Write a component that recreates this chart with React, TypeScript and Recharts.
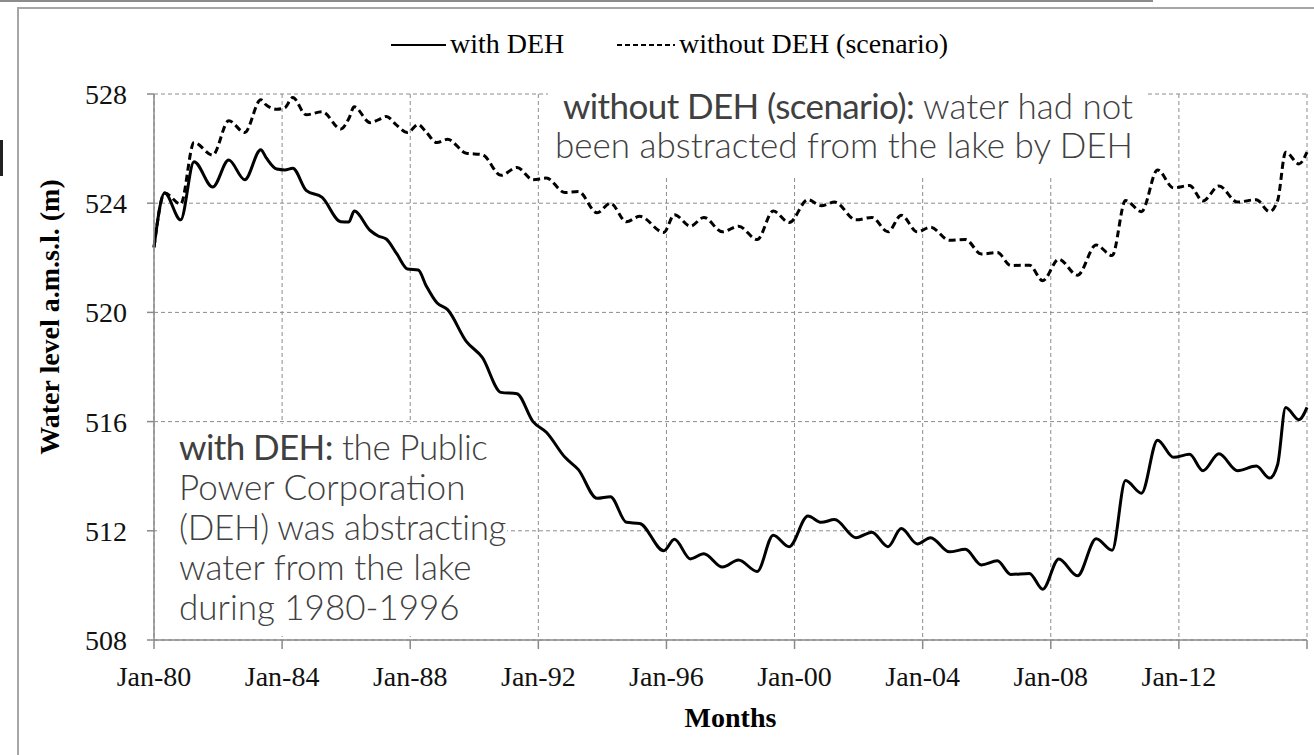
import React from 'react';
import { LineChart, Line, XAxis, YAxis, CartesianGrid } from 'recharts';

// months counted from Jan-1980
const months = [
  0, 4, 10, 15, 22, 28, 34, 40, 42, 46, 49, 52, 57, 63, 70, 73, 75, 81, 84, 87,
  91, 95, 99, 102, 106, 110, 117, 123, 130, 136, 142, 147, 154, 159, 166, 171, 177, 182, 191, 195,
  201, 206, 213, 219, 226, 232, 238, 245, 250, 255, 263, 269, 275, 280, 286, 291, 298, 304, 310, 316,
  321, 328, 333, 339, 346, 353, 359, 364, 370, 376, 382, 388, 393, 399, 406, 413, 418, 421, 424, 429, 432,
];

const withDEH = [
  522.38, 524.37, 523.39, 525.52, 524.59, 525.58, 524.86, 525.96, 525.67, 525.25,
  525.22, 525.28, 524.47, 524.21, 523.32, 523.31, 523.71, 523.0, 522.8, 522.69,
  522.14, 521.59, 521.55, 520.97, 520.35, 520.1, 518.94, 518.35, 517.07, 517.02,
  516.0, 515.61, 514.69, 514.24, 513.19, 513.25, 512.31, 512.27, 511.27, 511.69,
  510.97, 511.16, 510.67, 510.93, 510.51, 511.84, 511.42, 512.54, 512.31, 512.41,
  511.75, 511.95, 511.42, 512.08, 511.52, 511.75, 511.23, 511.32, 510.75, 510.9,
  510.4, 510.44, 509.86, 510.97, 510.35, 511.71, 511.29, 513.84, 513.38, 515.32,
  514.69, 514.8, 514.2, 514.82, 514.2, 514.37, 513.93, 514.43, 516.52, 516.07, 516.52,
];

const withoutDEH = [
  522.38, 524.37, 523.97, 526.22, 525.76, 527.02, 526.59, 527.79, 527.6, 527.44,
  527.5, 527.87, 527.24, 527.35, 526.72, 527.1, 527.53, 526.95, 527.05, 527.18,
  526.85, 526.59, 526.88, 526.6, 526.22, 526.34, 525.83, 525.78, 525.02, 525.31,
  524.86, 524.92, 524.39, 524.43, 523.65, 524.0, 523.32, 523.52, 522.93, 523.58,
  523.16, 523.48, 522.95, 523.16, 522.67, 523.71, 523.29, 524.13, 523.91, 524.04,
  523.39, 523.48, 522.95, 523.56, 522.95, 523.12, 522.64, 522.67, 522.14, 522.19,
  521.72, 521.73, 521.16, 521.95, 521.36, 522.47, 522.08, 524.1, 523.69, 525.22,
  524.56, 524.65, 524.08, 524.63, 524.04, 524.13, 523.69, 524.1, 525.87, 525.44, 525.87,
];

const xTicks = [0, 48, 96, 144, 192, 240, 288, 336, 384, 432];
const yTicks = [508, 512, 516, 520, 524, 528];

const data = months.map((m, i) => ({ month: m, withDEH: withDEH[i], withoutDEH: withoutDEH[i] }));

const serif = '"Liberation Serif", "Times New Roman", serif';
const sans = 'Lato, "Open Sans", sans-serif';
const noteColor = '#404040';

const formatMonth = (m: number) => {
  if (m >= 432) return '';
  const yy = (80 + m / 12) % 100;
  return `Jan-${String(yy).padStart(2, '0')}`;
};

const YTitle = ({ viewBox }: any) => {
  const x = viewBox.x + 59;
  const y = viewBox.y + viewBox.height / 2 - 50;
  return (
    <text x={x} y={y} transform={`rotate(-90 ${x} ${y})`} textAnchor="middle"
      fontFamily={serif} fontSize={28} fontWeight="bold" fill="#000">
      Water level a.m.s.l. (m)
    </text>
  );
};

const XTitle = ({ viewBox }: any) => (
  <text x={viewBox.x + viewBox.width / 2} y={viewBox.y + 87} textAnchor="middle"
    fontFamily={serif} fontSize={28} fontWeight="bold" fill="#000">
    Months
  </text>
);

export default function App() {
  return (
    <div style={{ position: 'absolute', left: 0, top: 0, width: 1314, height: 755, overflow: 'hidden', background: '#fff' }}>
      <LineChart width={1314} height={755} data={data} margin={{ top: 94, right: 7, bottom: 0, left: 0 }}>
        <CartesianGrid stroke="#8c8c8c" strokeDasharray="4 3" strokeWidth={1} />
        <XAxis
          dataKey="month"
          type="number"
          domain={[0, 432]}
          ticks={xTicks}
          tickFormatter={formatMonth}
          interval={0}
          height={115}
          stroke="#8a8a8a"
          strokeWidth={1.5}
          tickSize={9}
          tickMargin={17}
          tick={{ fill: '#111', fontFamily: serif, fontSize: 28 }}
          label={<XTitle />}
        />
        <YAxis
          domain={[508, 528]}
          ticks={yTicks}
          interval={0}
          width={154}
          stroke="#8a8a8a"
          strokeWidth={1.5}
          tickSize={7}
          tickMargin={20}
          tick={{ fill: '#111', fontFamily: serif, fontSize: 28 }}
          label={<YTitle />}
        />
        <Line type="monotone" dataKey="withoutDEH" stroke="#000" strokeWidth={3}
          strokeDasharray="7 4" dot={false} isAnimationActive={false} />
        <Line type="monotone" dataKey="withDEH" stroke="#000" strokeWidth={3}
          dot={false} isAnimationActive={false} />
      </LineChart>

      <svg width={1314} height={755} style={{ position: 'absolute', left: 0, top: 0, pointerEvents: 'none' }}>
        {/* slide edge and chart frame */}
        <line x1={0} y1={1} x2={1153} y2={1} stroke="#8c8c8c" strokeWidth={2} />
        <rect x={0} y={140} width={3} height={36} fill="#222" />
        <path d="M18 760 L18 8 L1320 8" fill="none" stroke="#a6a6a6" strokeWidth={2} />

        {/* legend */}
        <line x1={391} y1={45} x2={446} y2={45} stroke="#000" strokeWidth={2} />
        <text x={450} y={53} fontFamily={serif} fontSize={28} fill="#000">with DEH</text>
        <line x1={617} y1={45} x2={675} y2={45} stroke="#000" strokeWidth={2} strokeDasharray="5 3" />
        <text x={679} y={53} fontFamily={serif} fontSize={28} fill="#000">without DEH (scenario)</text>

        {/* notes */}
        <rect x={548} y={84} width={600} height={91} fill="#fff" />
        <text x={1133} y={119} textAnchor="end" fontFamily={sans} fontSize={35} fill={noteColor}>
          <tspan fontWeight={400} letterSpacing={-0.6}>without DEH (scenario):</tspan>
          <tspan fontWeight={300}> water had not</tspan>
        </text>
        <text x={1133} y={158} textAnchor="end" fontFamily={sans} fontSize={35} fontWeight={300} fill={noteColor}>
          been abstracted from the lake by DEH
        </text>

        <rect x={157} y={424} width={350} height={212} fill="#fff" />
        <text fontFamily={sans} fontSize={35} fill={noteColor}>
          <tspan x={179} y={460} fontWeight={400} letterSpacing={-0.6}>with DEH:</tspan>
          <tspan fontWeight={300} letterSpacing={-0.4}> the Public</tspan>
          <tspan x={179} y={500} fontWeight={300}>Power Corporation</tspan>
          <tspan x={179} y={540} fontWeight={300} letterSpacing={-0.3}>(DEH) was abstracting</tspan>
          <tspan x={179} y={580} fontWeight={300}>water from the lake</tspan>
          <tspan x={179} y={620} fontWeight={300}>during 1980-1996</tspan>
        </text>
      </svg>
    </div>
  );
}
